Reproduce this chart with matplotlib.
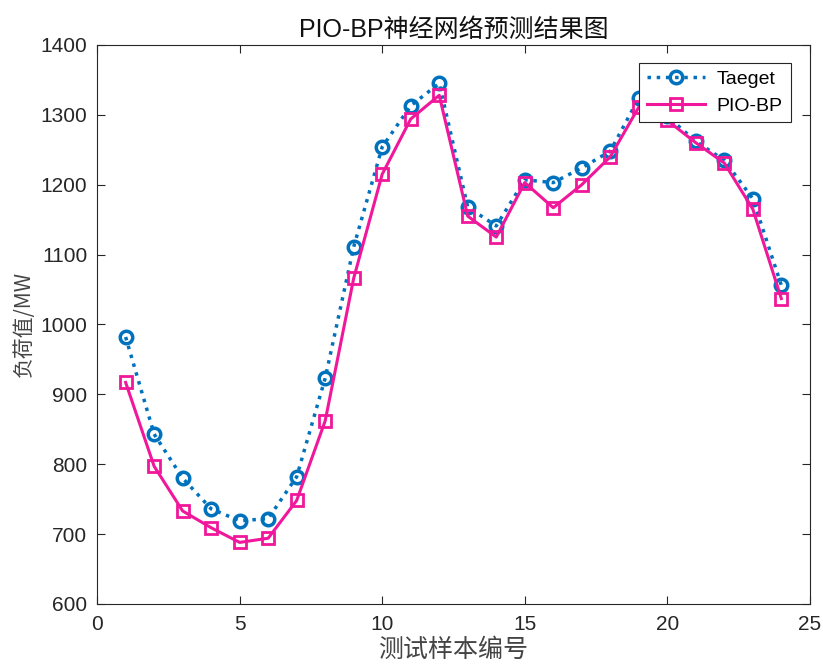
import matplotlib
matplotlib.use("Agg")
import matplotlib.pyplot as plt

samples = list(range(1, 25))
target = [982, 843, 780, 736, 719, 722, 782, 923, 1111, 1254, 1313, 1345,
          1168, 1141, 1207, 1203, 1224, 1248, 1324, 1298, 1262, 1235, 1180, 1056]
pio_bp = [917, 797, 733, 709, 688, 694, 748, 862, 1066, 1215, 1294, 1328,
          1155, 1125, 1203, 1167, 1200, 1240, 1311, 1292, 1260, 1231, 1165, 1037]

plt.rcParams["font.family"] = ["Liberation Sans", "Noto Sans CJK SC"]

fig = plt.figure(figsize=(8.23, 6.71), dpi=100)
ax = fig.add_axes([0.118, 0.100, 0.866, 0.833])

ax.plot(samples, target, ":", color="#0072BD", linewidth=2.5, marker="o",
        markersize=9, markerfacecolor="none", markeredgewidth=2.5, label="Taeget")
ax.plot(samples, pio_bp, "-", color="#F0179B", linewidth=2.2, marker="s",
        markersize=8, markerfacecolor="none", markeredgewidth=2, label="PIO-BP")

ax.set_xlim(0, 25)
ax.set_ylim(600, 1400)
ax.set_xticks([0, 5, 10, 15, 20, 25])
ax.set_yticks(range(600, 1401, 100))
ax.tick_params(direction="in", length=6, labelsize=15, colors="#262626",
               top=True, right=True, labeltop=False, labelright=False)
ax.tick_params(axis="x", pad=8)
ax.tick_params(axis="y", pad=7)
for s in ax.spines.values():
    s.set_color("#262626")
    s.set_linewidth(0.8)

ax.set_title("PIO-BP神经网络预测结果图", fontsize=18, color="#111111", pad=6)
ax.set_xlabel("测试样本编号", fontsize=18, color="#444444",
              family=["Noto Sans CJK SC"], fontweight="light", labelpad=2)
ax.set_ylabel("负荷值/MW", fontsize=15, color="#444444",
              family=["Noto Sans CJK SC", "Liberation Serif"], fontweight="light",
              labelpad=4)

leg = ax.legend(loc="upper right", fontsize=14, fancybox=False, framealpha=1,
                edgecolor="#262626", borderpad=0.4, handlelength=3.0,
                labelspacing=0.45, handletextpad=0.6, borderaxespad=0,
                bbox_to_anchor=(0.973, 0.968))
leg.get_frame().set_linewidth(0.8)

fig.savefig("out.png", dpi=100)
